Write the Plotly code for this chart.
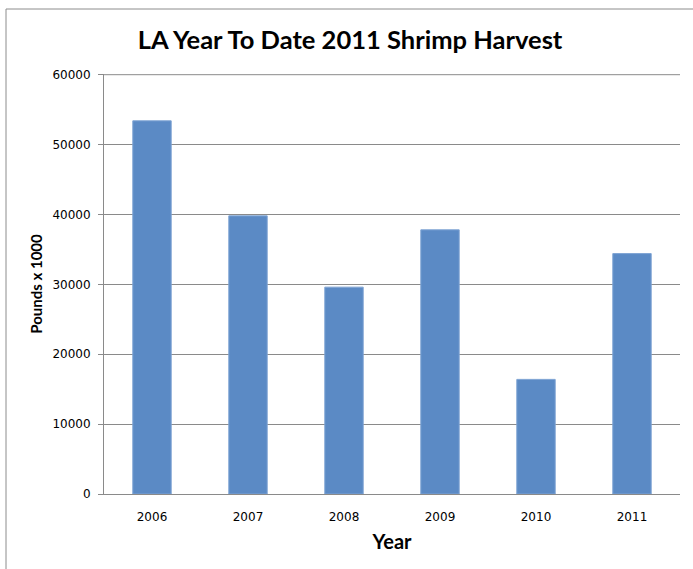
import plotly.graph_objects as go

years = ["2006", "2007", "2008", "2009", "2010", "2011"]
harvest = [53400, 39800, 29600, 37800, 16400, 34400]
y_ticks = [0, 10000, 20000, 30000, 40000, 50000, 60000]

W, H = 693, 569
L, R, T, B = 104, 13, 74, 75
pw, ph = W - L - R, H - T - B

def px_x(p):
    return (p - L) / pw

def px_y(p):
    return (H - B - p) / ph

fig = go.Figure()
fig.add_trace(go.Bar(
    x=years, y=harvest,
    marker=dict(color="#5B8AC5", line=dict(color="#7EA3D3", width=1)),
    width=0.4,
))

grid = "#8A8A8A"
fig.update_layout(
    width=W, height=H,
    margin=dict(l=L, r=R, t=T, b=B),
    paper_bgcolor="white", plot_bgcolor="white",
    showlegend=False,
    title=dict(text="LA Year To Date 2011 Shrimp Harvest",
               font=dict(family="Lato", size=25.5, color="black", weight="bold"),
               x=350 / W, xanchor="center", y=1 - 40 / H, yanchor="middle"),
    xaxis=dict(
        showline=True, linecolor=grid, linewidth=1,
        ticks="outside", ticklen=12, tickcolor="rgba(0,0,0,0)",
        tickfont=dict(family="DejaVu Sans", size=12, color="black"),
        title=dict(text="Year", font=dict(family="Lato", size=20, color="black", weight="bold"), standoff=11),
    ),
    yaxis=dict(
        range=[0, 60100], tickvals=y_ticks, ticktext=[str(v) for v in y_ticks],
        showgrid=True, gridcolor=grid, gridwidth=1,
        showline=True, linecolor=grid, linewidth=1,
        ticks="outside", ticklen=5, tickcolor=grid,
        ticklabelstandoff=5,
        tickfont=dict(family="DejaVu Sans", size=12, color="black"),
        title=dict(text="Pounds x 1000", font=dict(family="Lato", size=15, color="black", weight="bold"), standoff=6),
        zeroline=False,
    ),
)

# top gridline at the highest tick
fig.add_shape(type="line", xref="paper", yref="y", x0=0, x1=1,
              y0=y_ticks[-1], y1=y_ticks[-1], line=dict(color=grid, width=1))

frame = dict(color="#8C8C8C", width=1)
fig.add_shape(type="line", xref="paper", yref="paper",
              x0=px_x(6), x1=px_x(W + 5), y0=px_y(9), y1=px_y(9), line=frame)
fig.add_shape(type="line", xref="paper", yref="paper",
              x0=px_x(6), x1=px_x(6), y0=px_y(9), y1=px_y(H + 5), line=frame)

fig.write_html("out.html")
